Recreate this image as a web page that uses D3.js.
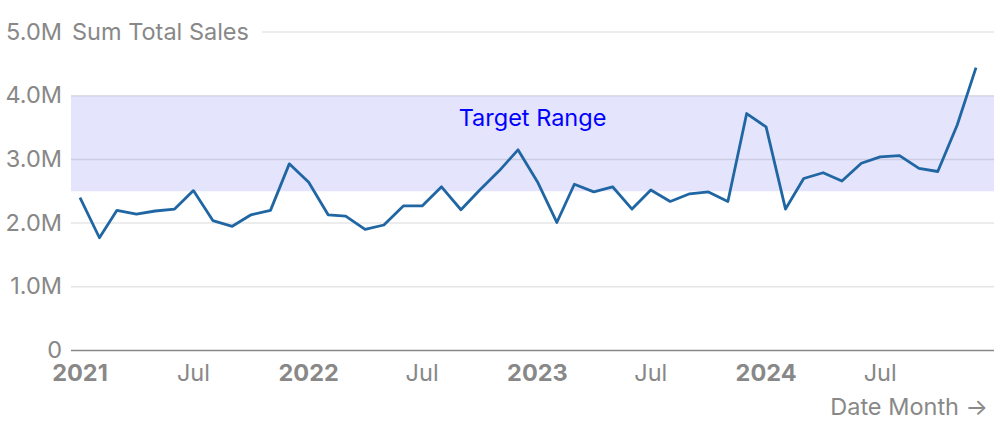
<!DOCTYPE html>
<html>
<head>
<meta charset="utf-8">
<script src="https://cdn.jsdelivr.net/npm/d3@7"></script>
<style>
  html, body { margin: 0; padding: 0; background: #fff; }
  svg { display: block; font-family: Inter, "Noto Sans", sans-serif; }
</style>
</head>
<body>
<svg id="chart" width="1000" height="430"></svg>
<script>
// ---- data ----
const startMonth = "2021-01";
const sales = [
  2.40, 1.77, 2.20, 2.14, 2.19, 2.22, 2.51, 2.04, 1.95, 2.13, 2.20, 2.93,
  2.64, 2.13, 2.11, 1.90, 1.97, 2.27, 2.27, 2.57, 2.21, 2.52, 2.82, 3.15,
  2.65, 2.01, 2.61, 2.49, 2.57, 2.22, 2.52, 2.34, 2.46, 2.49, 2.34, 3.72,
  3.51, 2.22, 2.70, 2.79, 2.66, 2.94, 3.04, 3.06, 2.86, 2.81, 3.54, 4.44
].map(v => v * 1e6);
const yTicks = [0, 1e6, 2e6, 3e6, 4e6, 5e6];
const yTickLabels = ["0", "1.0M", "2.0M", "3.0M", "4.0M", "5.0M"];
const xTicks = ["2021-01", "2021-07", "2022-01", "2022-07", "2023-01", "2023-07", "2024-01", "2024-07"];
const targetRange = [2.5e6, 4.0e6];
const targetLabel = "Target Range";
const yLabel = "Sum Total Sales";
const xLabel = "Date Month →";

// ---- build ----
const parse = d3.utcParse("%Y-%m");
const t0 = parse(startMonth);
const data = sales.map((v, i) => ({ date: d3.utcMonth.offset(t0, i), value: v }));

const svg = d3.select("#chart");
const plotLeft = 71, plotRight = 994;
const x = d3.scaleUtc()
  .domain(d3.extent(data, d => d.date))
  .range([80, 976]);
const y = d3.scaleLinear().domain([0, 5e6]).range([350.5, 32]);

const gray = "#888";
const fs = 23.5;

// target band
svg.append("rect")
  .attr("x", plotLeft)
  .attr("width", plotRight - plotLeft)
  .attr("y", y(targetRange[1]))
  .attr("height", y(targetRange[0]) - y(targetRange[1]))
  .attr("fill", "#e4e4fc");

// grid lines
svg.append("g")
  .selectAll("line")
  .data(yTicks.filter(d => d > 0))
  .join("line")
  .attr("x1", plotLeft).attr("x2", plotRight)
  .attr("y1", d => y(d)).attr("y2", d => y(d))
  .attr("stroke", "#000").attr("stroke-opacity", 0.1).attr("stroke-width", 1.5);

// y tick labels
svg.append("g")
  .selectAll("text")
  .data(yTicks)
  .join("text")
  .attr("x", 62)
  .attr("y", d => y(d))
  .attr("dy", "0.32em")
  .attr("text-anchor", "end")
  .attr("fill", gray)
  .attr("font-size", fs)
  .text((d, i) => yTickLabels[i]);

// y axis label with white background to cover gridline
const yl = svg.append("text")
  .attr("x", 72)
  .attr("y", y(5e6))
  .attr("dy", "0.32em")
  .attr("fill", gray)
  .attr("font-size", fs)
  .text(yLabel);
const bb = yl.node().getBBox();
svg.insert("rect", () => yl.node())
  .attr("x", bb.x - 2).attr("y", bb.y)
  .attr("width", 262 - bb.x + 2).attr("height", bb.height)
  .attr("fill", "#fff");

// target label
svg.append("text")
  .attr("x", (plotLeft + plotRight) / 2)
  .attr("y", 126)
  .attr("text-anchor", "middle")
  .attr("fill", "#0000ff")
  .attr("font-size", fs)
  .text(targetLabel);

// x axis baseline
svg.append("line")
  .attr("x1", plotLeft).attr("x2", plotRight)
  .attr("y1", y(0)).attr("y2", y(0))
  .attr("stroke", gray).attr("stroke-width", 1.5);

// x tick labels
svg.append("g")
  .selectAll("text")
  .data(xTicks.map(parse))
  .join("text")
  .attr("x", d => x(d))
  .attr("y", 381)
  .attr("text-anchor", "middle")
  .attr("fill", gray)
  .attr("font-size", fs)
  .attr("font-weight", d => d.getUTCMonth() === 0 ? 700 : 400)
  .text(d => d.getUTCMonth() === 0 ? d3.utcFormat("%Y")(d) : d3.utcFormat("%b")(d));

// x axis label
svg.append("text")
  .attr("x", 988)
  .attr("y", 415)
  .attr("text-anchor", "end")
  .attr("fill", gray)
  .attr("font-size", fs)
  .text(xLabel);

// line
svg.append("path")
  .datum(data)
  .attr("fill", "none")
  .attr("stroke", "#2066a3")
  .attr("stroke-width", 2.8)
  .attr("stroke-linejoin", "round")
  .attr("d", d3.line().x(d => x(d.date)).y(d => y(d.value)));
</script>
</body>
</html>
